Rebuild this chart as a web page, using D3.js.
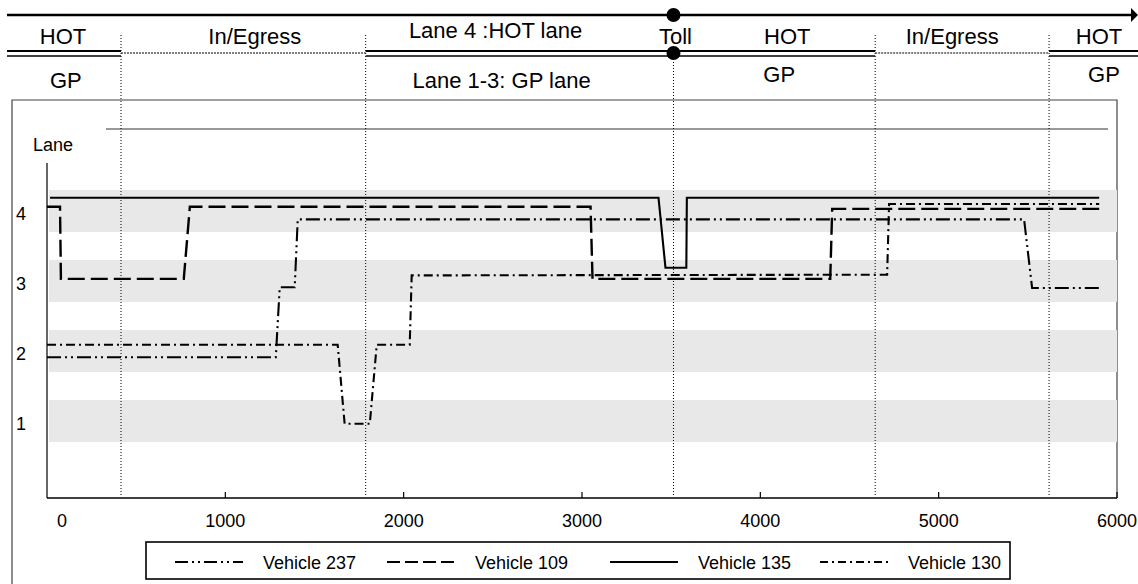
<!DOCTYPE html>
<html>
<head>
  <meta charset="utf-8">
  <title>Lane choice by distance</title>
  <style>
    html, body { margin: 0; padding: 0; background: #fff; overflow: hidden; }
    text { font-family: "Liberation Sans", Arial, sans-serif; fill: #000; }
    .hdr { font-size: 22px; }
    .tick { font-size: 18px; }
  </style>
</head>
<body>
  <svg id="chart" width="1138" height="584"></svg>

  <script src="https://d3js.org/d3.v7.min.js"></script>
  <script>
    // ---- data (distance along corridor, lane number as drawn) ----
    const vehicleNames = ["Vehicle 237", "Vehicle 109", "Vehicle 135", "Vehicle 130"];
    const v237 = [[0, 1.91], [1283, 1.91], [1305, 2.91], [1389, 2.91], [1406, 3.88],
                  [5479, 3.88], [5524, 2.9], [5900, 2.9]];
    const v109 = [[0, 4.06], [73, 4.06], [78, 3.03], [767, 3.03], [801, 4.06], [3048, 4.06],
                  [3059, 3.03], [4392, 3.03], [4403, 4.03], [5900, 4.03]];
    const v135 = [[17, 4.19], [3429, 4.19], [3468, 3.19], [3585, 3.19], [3588, 4.19], [5900, 4.19]];
    const v130 = [[0, 2.09], [1630, 2.09], [1669, 0.96], [1810, 0.96], [1849, 2.09], [2034, 2.09],
                  [2045, 3.08], [4711, 3.09], [4722, 4.1], [5900, 4.1]];
    const vehicleData = [v237, v109, v135, v130];

    const lanes = [1, 2, 3, 4];
    const xTicks = [0, 1000, 2000, 3000, 4000, 5000, 6000];

    // section boundaries (distance) : HOT | In/Egress | HOT | Toll | HOT | In/Egress | HOT
    const sectionBounds = [415, 1787, 3513, 4644, 5619];
    const tollAt = 3513;
    const headerTop = [["HOT", 90], ["In/Egress", 1165], ["Lane 4 :HOT lane", 2515], ["Toll", 3524],
                       ["HOT", 4151], ["In/Egress", 5076], ["HOT", 5899]];
    const headerBottom = [["GP", 106], ["Lane 1-3: GP lane", 2549], ["GP", 4106], ["GP", 5927]];

    // ---- styles per vehicle ----
    const dashes = ["14,4,2,4,2,4", "17,6", null, "9,4,2,4"];
    const legendDashes = ["13,4,2,4,2,4", "13,5", null, "8,4,2,4"];

    const svg = d3.select("#chart");
    const x = d3.scaleLinear().domain([0, 6000]).range([47, 1117]);
    const y = d3.scaleLinear().domain([0, 5]).range([491, 141]);
    const axisY = 498;

    // outer frame
    svg.append("path")
      .attr("d", "M12,584 V100 H1117 V" + axisY)
      .attr("fill", "none").attr("stroke", "#444").attr("stroke-width", 1.2);
    // plot top line
    svg.append("line").attr("x1", 106).attr("x2", 1108).attr("y1", 129).attr("y2", 129)
      .attr("stroke", "#333").attr("stroke-width", 1);

    // gray lane bands
    svg.selectAll("rect.band").data(lanes).enter().append("rect")
      .attr("class", "band")
      .attr("x", 49).attr("width", x(6000) - 49)
      .attr("y", d => y(d + 0.3)).attr("height", d => y(d - 0.3) - y(d + 0.3))
      .attr("fill", "#e8e8e8");

    // ---- header ----
    const hdr = svg.append("g");
    hdr.append("line").attr("x1", 7).attr("x2", 1131).attr("y1", 15).attr("y2", 15)
      .attr("stroke", "#000").attr("stroke-width", 2.7);
    hdr.append("path").attr("d", "M1131,8 L1138,15 L1131,22 Z").attr("fill", "#000");

    const dbl = [[7, x(sectionBounds[0])], [x(sectionBounds[1]), x(sectionBounds[3])], [x(sectionBounds[4]), 1138]];
    dbl.forEach(s => {
      hdr.append("line").attr("x1", s[0]).attr("x2", s[1]).attr("y1", 51).attr("y2", 51)
        .attr("stroke", "#000").attr("stroke-width", 2.2);
      hdr.append("line").attr("x1", s[0]).attr("x2", s[1]).attr("y1", 56).attr("y2", 56)
        .attr("stroke", "#000").attr("stroke-width", 1.6);
    });
    const dotted = [[x(sectionBounds[0]), x(sectionBounds[1])], [x(sectionBounds[3]), x(sectionBounds[4])]];
    dotted.forEach(s => {
      hdr.append("line").attr("x1", s[0]).attr("x2", s[1]).attr("y1", 53).attr("y2", 53)
        .attr("stroke", "#000").attr("stroke-width", 1).attr("stroke-dasharray", "2,1");
    });

    // section dotted verticals
    svg.selectAll("line.sec").data(sectionBounds).enter().append("line")
      .attr("class", "sec")
      .attr("x1", d => x(d)).attr("x2", d => x(d))
      .attr("y1", d => d === tollAt ? 62 : 35).attr("y2", axisY - 2)
      .attr("stroke", "#000").attr("stroke-width", 1).attr("stroke-dasharray", "1,2");

    hdr.selectAll("circle").data([15, 53]).enter().append("circle")
      .attr("cx", x(tollAt)).attr("cy", d => d).attr("r", 7).attr("fill", "#000");

    hdr.selectAll("text.top").data(headerTop).enter().append("text")
      .attr("class", "hdr top")
      .attr("x", d => x(d[1]))
      .attr("y", d => d[0].startsWith("Lane") ? 38 : 44)
      .attr("text-anchor", "middle")
      .text(d => d[0]);
    hdr.selectAll("text.bot").data(headerBottom).enter().append("text")
      .attr("class", "hdr bot")
      .attr("x", d => x(d[1]))
      .attr("y", d => d[1] < 3000 ? 88 : 82)
      .attr("text-anchor", "middle")
      .text(d => d[0]);

    // ---- axes ----
    svg.append("line").attr("x1", 47).attr("x2", 47).attr("y1", 163).attr("y2", axisY)
      .attr("stroke", "#000").attr("stroke-width", 1.2);
    svg.append("line").attr("x1", 47).attr("x2", x(6000)).attr("y1", axisY).attr("y2", axisY)
      .attr("stroke", "#000").attr("stroke-width", 1.6);

    svg.selectAll("line.xt").data(xTicks.slice(1)).enter().append("line")
      .attr("class", "xt")
      .attr("x1", d => x(d)).attr("x2", d => x(d)).attr("y1", axisY).attr("y2", axisY - 6)
      .attr("stroke", "#000").attr("stroke-width", 1.2);
    svg.selectAll("text.xl").data(xTicks).enter().append("text")
      .attr("class", "tick xl")
      .attr("x", d => x(d) + (d === 0 ? 15 : 0))
      .attr("y", 527)
      .attr("text-anchor", "middle")
      .text(d => d);

    svg.selectAll("text.yl").data(lanes).enter().append("text")
      .attr("class", "tick yl")
      .attr("x", 21).attr("y", d => y(d) + 9)
      .attr("text-anchor", "middle")
      .text(d => d);
    svg.append("text").attr("class", "tick").attr("x", 33).attr("y", 151).text("Lane");

    // ---- vehicle lines ----
    const line = d3.line().x(d => x(d[0])).y(d => y(d[1]));
    svg.selectAll("path.veh").data(vehicleData).enter().append("path")
      .attr("class", "veh")
      .attr("d", line)
      .attr("fill", "none")
      .attr("stroke", "#000")
      .attr("stroke-width", (d, i) => i === 1 ? 2.4 : 2.1)
      .attr("stroke-dasharray", (d, i) => dashes[i]);

    // ---- legend ----
    const leg = svg.append("g");
    leg.append("rect").attr("x", 146).attr("y", 542).attr("width", 864).attr("height", 37)
      .attr("fill", "#fff").attr("stroke", "#000").attr("stroke-width", 1.6);
    const legX = [175, 387, 610, 820];
    vehicleNames.forEach((name, i) => {
      leg.append("line").attr("x1", legX[i]).attr("x2", legX[i] + 68).attr("y1", 562).attr("y2", 562)
        .attr("stroke", "#000").attr("stroke-width", 2)
        .attr("stroke-dasharray", legendDashes[i]);
      leg.append("text").attr("class", "tick").attr("x", legX[i] + 88).attr("y", 569).text(name);
    });
  </script>
</body>
</html>
